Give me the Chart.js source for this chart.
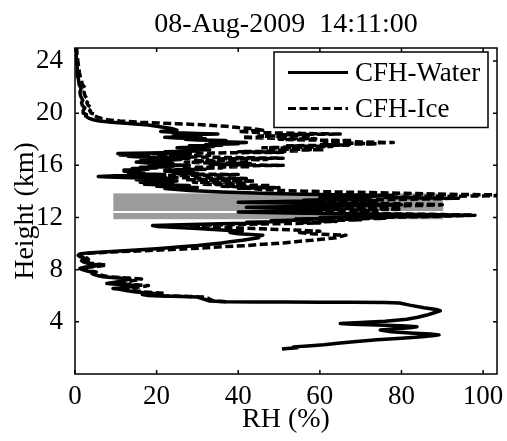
<!DOCTYPE html>
<html>
<head>
<meta charset="utf-8">
<script src="https://cdn.jsdelivr.net/npm/chart.js@4.4.0/dist/chart.umd.min.js"></script>
<style>
html, body { margin: 0; padding: 0; background: #fff; }
</style>
</head>
<body>
<canvas id="profile" width="507" height="441"></canvas>
<script>
// Profil CFH du 08-Aug-2009 : hauteur (km) / humidite relative (%)
const chartTitle = '08-Aug-2009  14:11:00';
const xTicks = [0, 20, 40, 60, 80, 100];
const yTicks = [4, 8, 12, 16, 20, 24];

// Humidite par rapport a l'eau (trait plein)
const waterHeight = [
  1.91, 1.96, 2.02, 2.08, 2.15, 2.25, 2.38, 2.50, 2.62, 2.75, 2.86, 2.95, 3.00, 3.06, 3.14, 3.24,
  3.37, 3.45, 3.55, 3.63, 3.70, 3.76, 3.82, 3.88, 3.95, 4.05, 4.20, 4.35, 4.52, 4.70, 4.85, 4.95,
  5.08, 5.28, 5.45, 5.49, 5.50, 5.51, 5.52, 5.52, 5.55, 5.60, 5.75, 5.90, 5.95, 5.98, 6.02, 6.10,
  6.18, 6.24, 6.30, 6.40, 6.50, 6.56, 6.62, 6.70, 6.78, 6.84, 6.90, 6.94, 7.00, 7.10, 7.20, 7.28,
  7.34, 7.40, 7.45, 7.55, 7.65, 7.75, 7.82, 7.90, 8.00, 8.10, 8.18, 8.26, 8.35, 8.42, 8.50, 8.60,
  8.70, 8.80, 8.90, 9.00, 9.10, 9.18, 9.25, 9.30, 9.38, 9.45, 9.52, 9.60, 9.68, 9.76, 9.85, 9.95,
  10.05, 10.15, 10.25, 10.35, 10.45, 10.55, 10.65, 10.75, 10.85, 10.95, 11.05, 11.15, 11.25, 11.32, 11.38, 11.45,
  11.52, 11.58, 11.64, 11.70, 11.76, 11.82, 11.88, 11.94, 12.00, 12.06, 12.12, 12.18, 12.23, 12.28, 12.33, 12.38,
  12.43, 12.48, 12.53, 12.58, 12.63, 12.68, 12.73, 12.78, 12.83, 12.88, 12.93, 12.98, 13.03, 13.08, 13.13, 13.18,
  13.23, 13.28, 13.33, 13.38, 13.43, 13.48, 13.53, 13.58, 13.63, 13.68, 13.73, 13.78, 13.84, 13.90, 13.96, 14.02,
  14.08, 14.15, 14.22,
  14.25, 14.30, 14.35, 14.40, 14.45, 14.50, 14.55, 14.60, 14.65, 14.70, 14.75, 14.80, 14.85, 14.90, 14.95, 15.00,
  15.05, 15.10, 15.15, 15.20, 15.25, 15.30, 15.35, 15.40, 15.45, 15.50, 15.55, 15.60, 15.65, 15.70, 15.75, 15.80,
  15.85, 15.90, 15.95, 16.00, 16.05, 16.10, 16.15, 16.20, 16.25, 16.30, 16.35, 16.40, 16.45, 16.50, 16.55, 16.60,
  16.65, 16.70, 16.75, 16.80, 16.85, 16.90, 16.95, 17.00, 17.05, 17.10, 17.15, 17.20, 17.25, 17.30, 17.35, 17.40,
  17.45, 17.50, 17.55, 17.60, 17.65, 17.70, 17.75, 17.80, 17.85, 17.90, 17.95, 18.00, 18.05, 18.10, 18.15, 18.20,
  18.25, 18.30, 18.35, 18.40, 18.45, 18.50, 18.55, 18.60,
  18.70, 18.80, 18.90, 19.00, 19.10, 19.20, 19.30, 19.40, 19.50, 19.60, 19.70, 19.80, 19.90, 20.00, 20.20, 20.40,
  20.60, 20.80, 21.00, 21.30, 21.60, 21.90, 22.20, 22.50, 22.80, 23.10, 23.50, 24.00, 24.50, 25.00
];
const waterRH = [
  50.7, 52.0, 54.5, 53.5, 57.0, 61.0, 65.0, 69.0, 74.0, 80.0, 85.0, 88.0, 89.2, 87.0, 82.0, 77.5,
  74.8, 78.0, 82.0, 83.8, 80.0, 74.0, 68.0, 65.0, 70.0, 76.0, 81.3, 84.0, 86.2, 88.0, 89.5, 88.5,
  85.5, 82.0, 79.5, 76.0, 68.0, 60.0, 52.0, 44.0, 37.0, 33.0, 31.5, 30.0, 26.0, 21.0, 18.0, 16.5,
  19.5, 17.0, 14.5, 12.5, 11.0, 9.3, 12.0, 14.0, 15.2, 12.5, 9.5, 7.8, 9.0, 11.0, 12.5, 13.5,
  11.5, 9.0, 6.9, 5.5, 4.5, 4.0, 4.2, 3.0, 1.8, 1.2, 2.2, 4.5, 6.1, 4.5, 3.0, 2.0,
  1.6, 2.5, 2.2, 1.2, 0.8, 1.0, 2.0, 4.0, 8.0, 12.0, 16.0, 20.0, 23.0, 26.0, 30.0, 33.0,
  36.0, 38.0, 41.0, 43.0, 45.0, 45.0, 46.0, 40.0, 38.0, 41.0, 36.0, 30.0, 24.0, 20.0, 19.0, 26.0,
  36.0, 46.0, 42.0, 52.0, 48.0, 58.0, 54.0, 64.0, 60.0, 76.0, 88.0, 97.0, 84.0, 68.0, 56.0, 46.0,
  40.0, 50.0, 60.0, 55.0, 66.0, 62.0, 50.0, 42.0, 52.0, 62.0, 74.0, 80.0, 70.0, 58.0, 48.0, 40.0,
  50.0, 60.0, 56.0, 64.0, 72.0, 68.0, 60.0, 66.0, 72.0, 78.0, 68.0, 56.0, 48.0, 42.0, 36.0, 32.0,
  28.0, 25.0, 22.0,
  22, 30, 24, 20, 28, 22, 17, 24, 19, 16, 22, 25, 20, 15, 20, 24,
  14, 8, 5.7, 10, 18, 22, 14, 17, 13, 16, 12, 15, 12, 18, 14, 20,
  16, 24, 20, 28, 22, 18, 24, 17, 15, 20, 16, 22, 26, 20, 28, 21,
  16, 13, 18, 11, 15, 10.5, 18, 28, 22, 30, 26, 33, 27, 31, 25, 29,
  34, 28, 36, 32, 40, 36, 42, 38, 33, 37, 30, 27, 32, 25, 22, 28,
  24, 31, 27, 35, 30, 25, 23, 21,
  25, 24, 22, 20, 18, 14, 9, 6, 4.5, 3.5, 3.0, 2.6, 2.8, 2.2, 2.0, 2.4,
  1.8, 1.6, 1.9, 1.4, 1.2, 1.5, 1.0, 0.9, 0.7, 0.6, 0.5, 0.4, 0.3, 0.2
];

// Humidite par rapport a la glace (tirets), seulement au-dessus de l'isotherme 0
const iceHeight = [
  5.55, 5.60, 5.75, 5.90, 5.95, 5.98, 6.02, 6.10, 6.18, 6.24, 6.30, 6.40, 6.50, 6.56, 6.62, 6.70,
  6.78, 6.84, 6.90, 6.94, 7.00, 7.10, 7.20, 7.28, 7.34, 7.40, 7.45, 7.55, 7.65, 7.75, 7.82, 7.90,
  8.00, 8.10, 8.18, 8.26, 8.35, 8.42, 8.50, 8.60, 8.70, 8.80, 8.90, 9.00, 9.10, 9.18, 9.25, 9.30,
  9.38, 9.45, 9.52, 9.60, 9.68, 9.76, 9.85, 9.95, 10.05, 10.15, 10.25, 10.35, 10.45, 10.55, 10.65, 10.75,
  10.85, 10.95, 11.05, 11.15, 11.25, 11.32, 11.38, 11.45, 11.52, 11.58, 11.64, 11.70, 11.76, 11.82, 11.88, 11.94,
  12.00, 12.06, 12.12, 12.18, 12.23, 12.28, 12.33, 12.38, 12.43, 12.48, 12.53, 12.58, 12.63, 12.68, 12.73, 12.78,
  12.83, 12.88, 12.93, 12.98, 13.03, 13.08, 13.13, 13.18, 13.23, 13.28, 13.33, 13.38, 13.43, 13.48, 13.53, 13.58,
  13.63, 13.68, 13.73, 13.78, 13.84, 13.90, 13.96, 14.02, 14.08, 14.15, 14.22,
  14.25, 14.30, 14.35, 14.40, 14.45, 14.50, 14.55, 14.60, 14.65, 14.70, 14.75, 14.80, 14.85, 14.90, 14.95, 15.00,
  15.05, 15.10, 15.15, 15.20, 15.25, 15.30, 15.35, 15.40, 15.45, 15.50, 15.55, 15.60, 15.65, 15.70, 15.75, 15.80,
  15.85, 15.90, 15.95, 16.00, 16.05, 16.10, 16.15, 16.20, 16.25, 16.30, 16.35, 16.40, 16.45, 16.50, 16.55, 16.60,
  16.65, 16.70, 16.75, 16.80, 16.85, 16.90, 16.95, 17.00, 17.05, 17.10, 17.15, 17.20, 17.25, 17.30, 17.35, 17.40,
  17.45, 17.50, 17.55, 17.60, 17.65, 17.70, 17.75, 17.80, 17.85, 17.90, 17.95, 18.00, 18.05, 18.10, 18.15, 18.20,
  18.25, 18.30, 18.35, 18.40, 18.45, 18.50, 18.55, 18.60,
  18.70, 18.80, 18.90, 19.00, 19.10, 19.20, 19.30, 19.40, 19.50, 19.60, 19.70, 19.80, 19.90, 20.00, 20.20, 20.40,
  20.60, 20.80, 21.00, 21.30, 21.60, 21.90, 22.20, 22.50, 22.80, 23.10, 23.50, 24.00, 24.50, 25.00
];
const iceRH = [
  37.0, 34.0, 33.0, 32.0, 28.0, 23.0, 20.0, 18.5, 22.0, 19.0, 16.5, 14.5, 12.8, 10.8, 14.0, 16.5,
  18.0, 15.0, 11.3, 9.3, 10.8, 13.2, 15.0, 16.3, 14.0, 11.0, 8.4, 6.8, 5.6, 5.0, 5.2, 3.8,
  2.3, 1.5, 2.8, 5.7, 7.8, 5.8, 3.8, 2.6, 2.1, 3.3, 2.9, 1.6, 1.1, 1.3, 2.7, 5.5,
  11.0, 16.5, 22.0, 27.5, 32.0, 36.0, 42.0, 46.0, 51.0, 54.0, 58.0, 61.0, 64.0, 65.0, 66.4, 58.0,
  55.0, 60.0, 53.0, 44.0, 35.0, 30.0, 28.0, 38.0, 48.0, 60.0, 55.0, 64.0, 60.0, 70.0, 66.0, 76.0,
  72.0, 84.0, 92.0, 98.0, 90.0, 78.0, 68.0, 60.0, 54.0, 64.0, 74.0, 68.0, 80.0, 76.0, 62.0, 56.0,
  66.0, 76.0, 86.0, 90.0, 84.0, 72.0, 60.0, 54.0, 64.0, 74.0, 70.0, 78.0, 88.0, 94.0, 76.0, 80.0,
  92.0, 108.0, 106.0, 92.0, 84.0, 74.0, 64.0, 56.0, 50.0, 46.0, 43.0,
  40, 50, 42, 36, 48, 40, 31, 42, 34, 29, 40, 44, 36, 27, 36, 42,
  25, 14, 10, 18, 32, 40, 25, 30, 24, 29, 22, 27, 22, 32, 26, 36,
  29, 43, 36, 51, 40, 33, 43, 31, 27, 36, 29, 40, 47, 36, 51, 38,
  29, 24, 33, 20, 27, 19, 33, 51, 40, 55, 48, 61, 50, 57, 46, 54,
  63, 52, 67, 60, 74, 67, 78, 70, 61, 68, 56, 50, 59, 46, 41, 52,
  45, 58, 50, 65, 56, 47, 43, 40,
  46, 44, 40, 37, 32, 25, 16, 11, 8, 6.5, 5.5, 4.8, 5.0, 4.0, 3.6, 4.2,
  3.2, 2.9, 3.3, 2.5, 2.2, 2.6, 1.8, 1.6, 1.3, 1.1, 0.9, 0.7, 0.5, 0.4
];

// Couches nuageuses (bandes grises)
const cloudLeft = [9.4, 9.4];
const cloudRight = [90.2, 90.2];
const cloudBase = [12.5, 11.87];
const cloudTop = [13.85, 12.35];

const serif = 'Liberation Serif';

function toPoints(heights, values) {
    let points = [];
    for (let i = 0; i < heights.length; i++) {
        points.push({x: values[i], y: heights[i]});
    }
    return points;
}

// Bandes grises dessinees sous les courbes
const cloudBands = {
    id: 'cloudBands',
    beforeDatasetsDraw(chart) {
        const {ctx, scales: {x, y}} = chart;
        ctx.save();
        ctx.fillStyle = '#9b9b9b';
        for (let i = 0; i < cloudBase.length; i++) {
            const left = x.getPixelForValue(cloudLeft[i]);
            const right = x.getPixelForValue(cloudRight[i]);
            const top = y.getPixelForValue(cloudTop[i]);
            const bottom = y.getPixelForValue(cloudBase[i]);
            ctx.fillRect(left, top, right - left, bottom - top);
        }
        ctx.restore();
    }
};

// Cadre et graduations vers l'interieur
const frameTicks = {
    id: 'frameTicks',
    afterDatasetsDraw(chart) {
        const {ctx, chartArea: a, scales: {x, y}} = chart;
        ctx.save();
        ctx.strokeStyle = '#000';
        ctx.lineWidth = 1.5;
        ctx.beginPath();
        for (const v of xTicks) {
            const px = x.getPixelForValue(v);
            ctx.moveTo(px, a.bottom); ctx.lineTo(px, a.bottom - 4);
            ctx.moveTo(px, a.top); ctx.lineTo(px, a.top + 4);
        }
        for (const v of yTicks) {
            const py = y.getPixelForValue(v);
            ctx.moveTo(a.left, py); ctx.lineTo(a.left + 4, py);
            ctx.moveTo(a.right, py); ctx.lineTo(a.right - 4, py);
        }
        ctx.stroke();
        ctx.strokeRect(a.left, a.top, a.right - a.left, a.bottom - a.top);
        ctx.restore();
    }
};

// Legende encadree en haut a droite
const boxedLegend = {
    id: 'boxedLegend',
    afterDraw(chart) {
        const {ctx, chartArea: a} = chart;
        const w = 214, h = 75.5;
        const left = a.right - 9 - w;
        const top = a.top + 4;
        ctx.save();
        ctx.fillStyle = '#fff';
        ctx.fillRect(left, top, w, h);
        ctx.strokeStyle = '#000';
        ctx.lineWidth = 1.5;
        ctx.strokeRect(left, top, w, h);
        const rows = [top + 20.6, top + 56.6];
        chart.data.datasets.forEach(function (ds, i) {
            ctx.beginPath();
            ctx.lineWidth = 3;
            ctx.setLineDash(ds.borderDash || []);
            ctx.moveTo(left + 14, rows[i]);
            ctx.lineTo(left + 74, rows[i]);
            ctx.stroke();
            ctx.setLineDash([]);
            ctx.fillStyle = '#000';
            ctx.font = '27px "' + serif + '"';
            ctx.textBaseline = 'middle';
            ctx.fillText(ds.label, left + 81, rows[i] + 1);
        });
        ctx.restore();
    }
};

let ctx = document.getElementById('profile').getContext('2d');
let chart = new Chart(ctx, {
    type: 'scatter',
    data: {
        datasets: [{
            label: 'CFH-Water',
            data: toPoints(waterHeight, waterRH),
            showLine: true,
            borderColor: '#000',
            borderWidth: 3.5,
            pointRadius: 0,
            borderJoinStyle: 'round',
            order: 1,
            clip: 0
        }, {
            label: 'CFH-Ice',
            data: toPoints(iceHeight, iceRH),
            showLine: true,
            borderColor: '#000',
            borderWidth: 3.5,
            borderDash: [8, 3.5],
            pointRadius: 0,
            borderJoinStyle: 'round',
            order: 0,
            clip: 0
        }]
    },
    options: {
        responsive: false,
        animation: false,
        layout: {padding: {left: 0, right: 10, top: 0, bottom: 0}},
        plugins: {
            legend: {display: false},
            tooltip: {enabled: false},
            title: {
                display: true,
                text: chartTitle,
                fullSize: false,
                color: '#000',
                font: {family: serif, size: 28, weight: 'normal'},
                padding: {top: 8, bottom: 6.4}
            }
        },
        scales: {
            x: {
                type: 'linear',
                min: 0,
                max: 103.4,
                grid: {display: false, drawTicks: false},
                border: {display: false},
                afterBuildTicks: function (scale) {
                    scale.ticks = xTicks.map(v => ({value: v}));
                },
                afterFit: function (scale) {
                    scale.height = 67;
                    scale.paddingLeft = 0;
                    scale.paddingRight = 0;
                },
                ticks: {
                    color: '#000',
                    padding: 7,
                    maxRotation: 0,
                    font: {family: serif, size: 27}
                },
                title: {
                    display: true,
                    text: 'RH (%)',
                    color: '#000',
                    font: {family: serif, size: 28},
                    padding: {top: 0, bottom: 5}
                }
            },
            y: {
                type: 'linear',
                min: 0,
                max: 25,
                grid: {display: false, drawTicks: false},
                border: {display: false},
                afterBuildTicks: function (scale) {
                    scale.ticks = yTicks.map(v => ({value: v}));
                },
                afterFit: function (scale) {
                    scale.width = 75;
                },
                ticks: {
                    color: '#000',
                    padding: 12,
                    font: {family: serif, size: 27}
                },
                title: {
                    display: true,
                    text: 'Height (km)',
                    color: '#000',
                    font: {family: serif, size: 28},
                    padding: {top: 9, bottom: 0}
                }
            }
        }
    },
    plugins: [cloudBands, frameTicks, boxedLegend]
});
</script>
</body>
</html>
